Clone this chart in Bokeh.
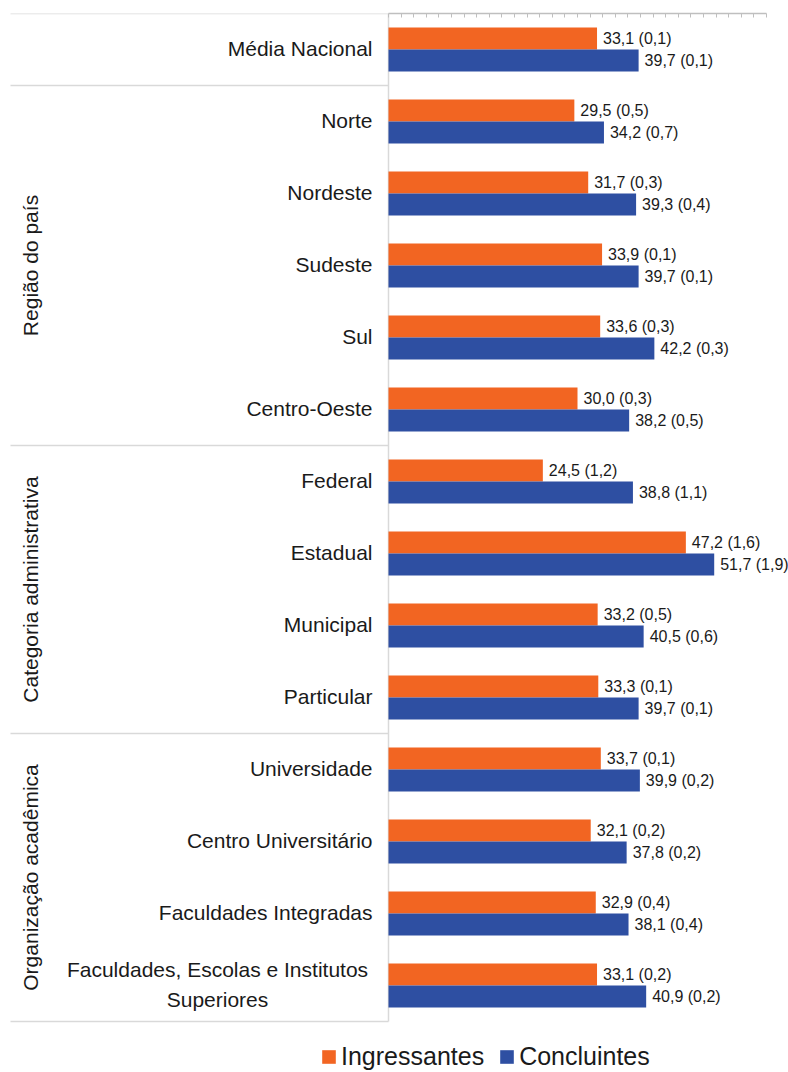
import numpy as np
from bokeh.plotting import figure
from bokeh.models import (ColumnDataSource, Range1d, LinearAxis, SingleIntervalTicker,
                          Legend, LegendItem, CustomLabelingPolicy)
from bokeh.core.properties import value
from bokeh.embed import file_html
from bokeh.resources import INLINE

# ---------------- data ----------------
categories = ["Média Nacional", "Norte", "Nordeste", "Sudeste", "Sul", "Centro-Oeste",
              "Federal", "Estadual", "Municipal", "Particular",
              "Universidade", "Centro Universitário", "Faculdades Integradas",
              "Faculdades, Escolas e Institutos\nSuperiores"]
groups = ["", "Região do país", "Região do país", "Região do país", "Região do país", "Região do país",
          "Categoria administrativa", "Categoria administrativa", "Categoria administrativa",
          "Categoria administrativa",
          "Organização acadêmica", "Organização acadêmica", "Organização acadêmica",
          "Organização acadêmica"]
ingressantes = [33.1, 29.5, 31.7, 33.9, 33.6, 30.0, 24.5, 47.2, 33.2, 33.3, 33.7, 32.1, 32.9, 33.1]
ingressantes_se = [0.1, 0.5, 0.3, 0.1, 0.3, 0.3, 1.2, 1.6, 0.5, 0.1, 0.1, 0.2, 0.4, 0.2]
concluintes = [39.7, 34.2, 39.3, 39.7, 42.2, 38.2, 38.8, 51.7, 40.5, 39.7, 39.9, 37.8, 38.1, 40.9]
concluintes_se = [0.1, 0.7, 0.4, 0.1, 0.3, 0.5, 1.1, 1.9, 0.6, 0.1, 0.2, 0.2, 0.4, 0.2]
series_names = ["Ingressantes", "Concluintes"]
axis_max = 60
tick_step = 2

ORANGE = "#F26522"
BLUE = "#2E4FA2"
GRID = "#d9d9d9"
FONT = "Liberation Sans"
TXT = "#1a1a1a"


def fmt(v, se):
    return f"{v:.1f}".replace(".", ",") + " (" + f"{se:.1f}".replace(".", ",") + ")"


n = len(categories)
rows = np.arange(n)
BAR_H = 0.305

src = ColumnDataSource(dict(
    row=rows,
    y_ing=rows - BAR_H / 2,
    y_con=rows + BAR_H / 2,
    ing=ingressantes,
    con=concluintes,
    ing_lbl=[fmt(v, s) for v, s in zip(ingressantes, ingressantes_se)],
    con_lbl=[fmt(v, s) for v, s in zip(concluintes, concluintes_se)],
    cat=[c if "\n" not in c else "" for c in categories],
))

W, H = 788, 1072
TOP = 13
PX_PER_ROW = 72
PX_PER_UNIT = 6.3
ZERO_PX = 388
y_top = -0.5
y_bottom = y_top + (H - TOP) / PX_PER_ROW
x_start = -ZERO_PX / PX_PER_UNIT
x_end = (W - ZERO_PX) / PX_PER_UNIT

p = figure(width=W, height=H, output_backend="svg", toolbar_location=None,
           x_range=Range1d(x_start, x_end), y_range=Range1d(y_bottom, y_top),
           x_axis_location=None, y_axis_location=None,
           min_border_left=0, min_border_right=0, min_border_top=TOP, min_border_bottom=0)
p.outline_line_color = None
for g in p.grid:
    g.visible = False

# top axis with tick marks only (no labels)
ax = LinearAxis(bounds=(0, axis_max), ticker=SingleIntervalTicker(interval=tick_step, num_minor_ticks=0),
                major_tick_in=4, major_tick_out=0, minor_tick_in=0, minor_tick_out=0,
                major_label_text_font_size="1px", major_label_standoff=0,
                major_label_policy=CustomLabelingPolicy(code="return new Set()"),
                axis_line_color="#bfbfbf", major_tick_line_color="#bfbfbf", axis_line_width=1.5)
p.add_layout(ax, "above")

# separators in the label area
bounds = [y_top]
for i in range(1, n):
    if groups[i] != groups[i - 1]:
        bounds.append(i - 0.5)
bounds.append(n - 0.5)
sep_x0 = x_start + 10 / PX_PER_UNIT
p.segment(x0=[sep_x0] * len(bounds), x1=[0] * len(bounds), y0=bounds, y1=bounds,
          line_color=GRID, line_width=1.5)
p.segment(x0=[0], x1=[0], y0=[y_top], y1=[n - 0.5], line_color=GRID, line_width=1.5)

# bars
r_ing = p.hbar(y="y_ing", right="ing", left=0, height=BAR_H, source=src,
               fill_color=ORANGE, line_color=None)
r_con = p.hbar(y="y_con", right="con", left=0, height=BAR_H, source=src,
               fill_color=BLUE, line_color=None)

# value labels
for yk, xk, lk in [("y_ing", "ing", "ing_lbl"), ("y_con", "con", "con_lbl")]:
    p.text(x=xk, y=yk, text=lk, source=src, x_offset=6, text_align="left",
           text_baseline="middle", text_font=value(FONT), text_font_size="16px",
           text_color=TXT)

# category labels
p.text(x=0, y="row", text="cat", source=src, x_offset=-16, y_offset=-1, text_align="right",
       text_baseline="middle", text_font=value(FONT), text_font_size="21px", text_color=TXT)
multi = [i for i, c in enumerate(categories) if "\n" in c]
p.text(x=[0] * len(multi), y=[rows[i] for i in multi], text=[categories[i] for i in multi],
       x_offset=-171, y_offset=-1, text_align="center", text_baseline="middle", text_line_height=1.3,
       text_font=value(FONT), text_font_size="21px", text_color=TXT)

# group labels (rotated)
gnames, gmid = [], []
for gname in dict.fromkeys(groups):
    if not gname:
        continue
    idx = [i for i, g in enumerate(groups) if g == gname]
    gnames.append(gname)
    gmid.append((idx[0] + idx[-1]) / 2)
p.text(x=[x_start] * len(gnames), y=gmid, text=gnames, x_offset=30, angle=np.pi / 2,
       text_align="center", text_baseline="middle", text_font=value(FONT),
       text_font_size="21px", text_color=TXT)

legend = Legend(items=[LegendItem(label=series_names[0], renderers=[r_ing]),
                       LegendItem(label=series_names[1], renderers=[r_con])],
                orientation="horizontal", location=(320, 1),
                label_text_font=FONT, label_text_font_size="25px", label_text_color=TXT,
                glyph_width=17, glyph_height=17, label_standoff=4, spacing=14,
                padding=0, margin=0, border_line_color=None, background_fill_alpha=0)
p.add_layout(legend, "center")

open("out.html", "w").write(file_html(p, INLINE))
